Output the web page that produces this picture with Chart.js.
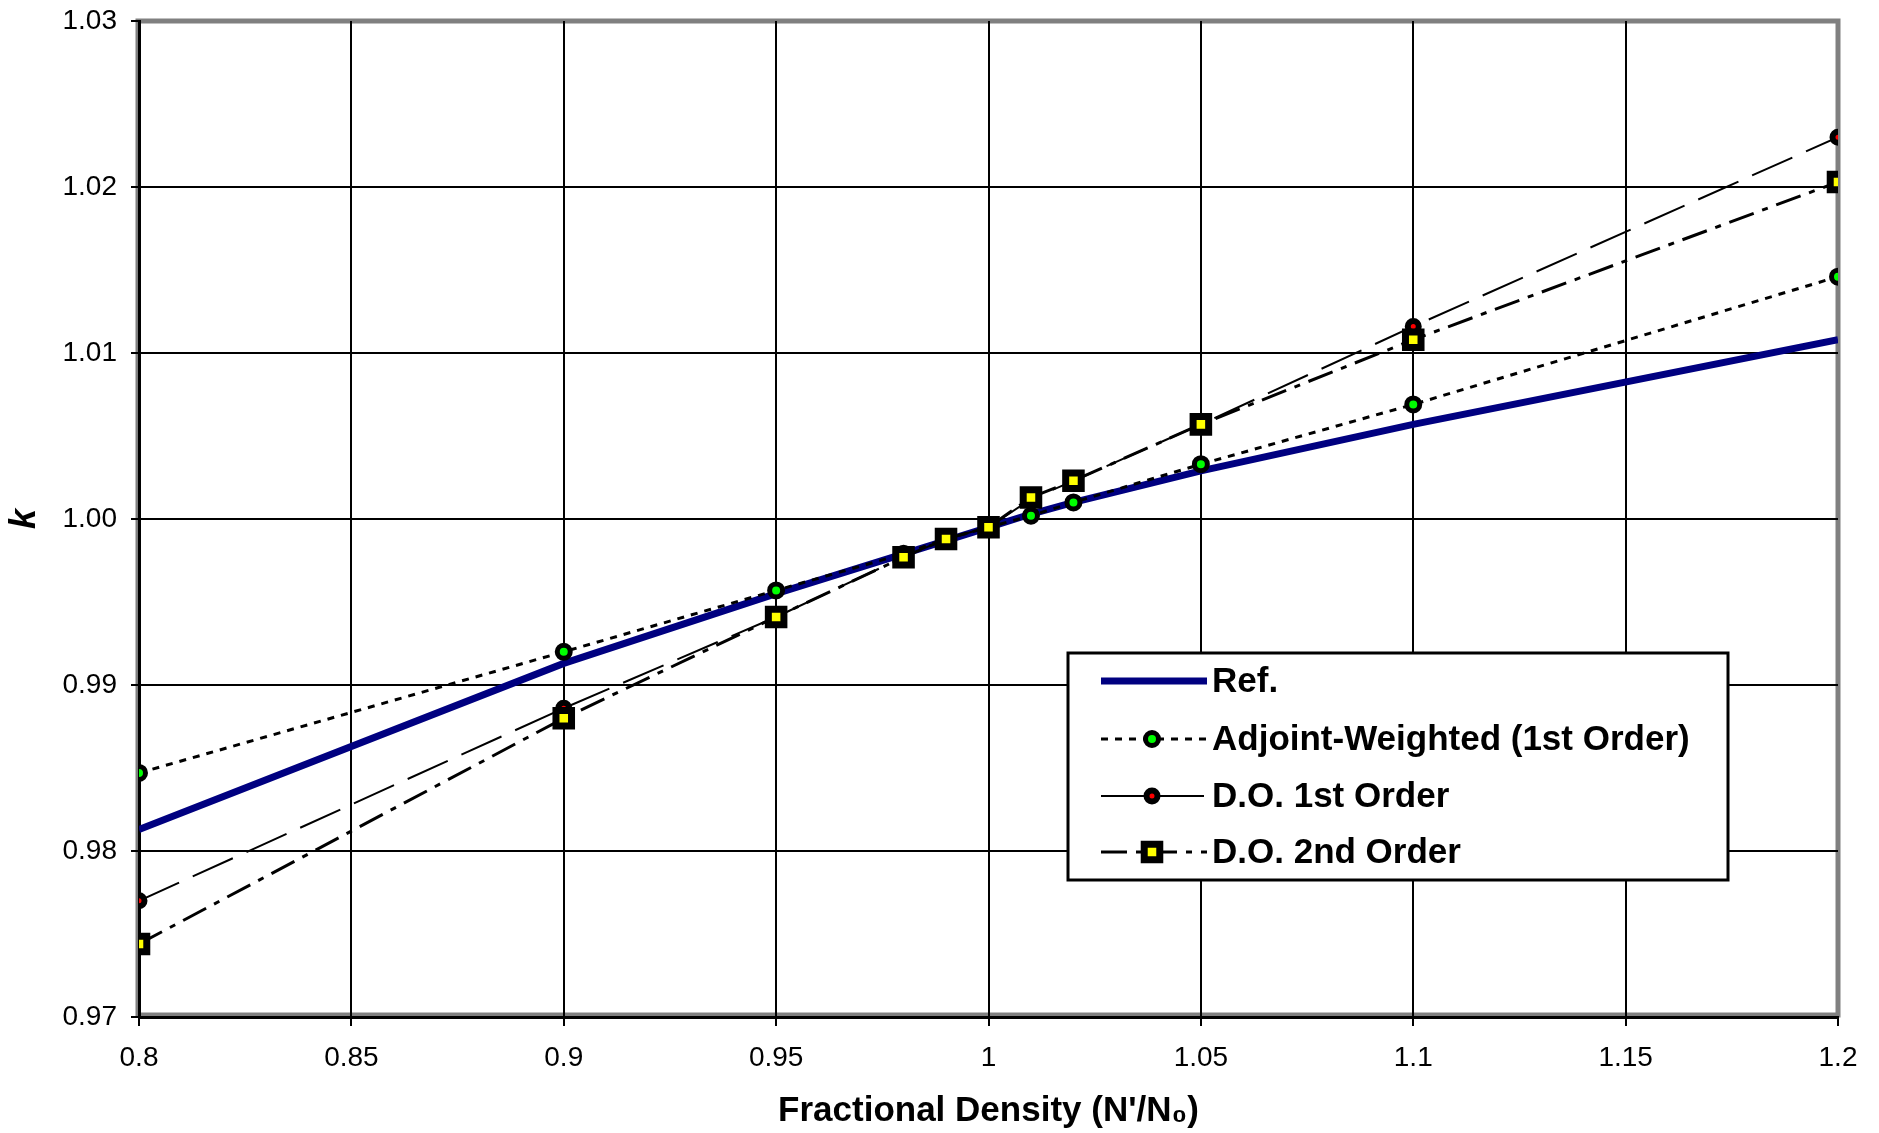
<!DOCTYPE html>
<html>
<head>
<meta charset="utf-8">
<script src="https://cdn.jsdelivr.net/npm/chart.js@4.4.1/dist/chart.umd.min.js"></script>
<style>
    html, body { margin: 0; padding: 0; background: #fff; }
    #wrap { width: 1879px; height: 1133px; position: relative; }
</style>
</head>
<body>
<div id="wrap"><canvas id="kChart"></canvas></div>
<script>
// values
const densities = [0.8, 0.9, 0.95, 0.98, 0.99, 1.0, 1.01, 1.02, 1.05, 1.1, 1.2];
const refK      = [0.9813, 0.9913, 0.9955, 0.9979, 0.9987, 0.9995, 1.0003, 1.0010, 1.0029, 1.0057, 1.0108];
const adjointK  = [0.9847, 0.9920, 0.9957, 0.9979, 0.9988, 0.9995, 1.0002, 1.0010, 1.0033, 1.0069, 1.0146];
const do1K      = [0.9770, 0.9886, 0.9941, 0.9977, 0.9988, 0.9995, 1.0012, 1.0023, 1.0057, 1.0116, 1.0230];
const do2K      = [0.9744, 0.9880, 0.9941, 0.9977, 0.9988, 0.9995, 1.0013, 1.0023, 1.0057, 1.0108, 1.0203];

const seriesNames = ['Ref.', 'Adjoint-Weighted (1st Order)', 'D.O. 1st Order', 'D.O. 2nd Order'];

const xTickValues = [0.8, 0.85, 0.9, 0.95, 1.0, 1.05, 1.1, 1.15, 1.2];
const xTickLabels = ['0.8', '0.85', '0.9', '0.95', '1', '1.05', '1.1', '1.15', '1.2'];
const yTickValues = [0.97, 0.98, 0.99, 1.00, 1.01, 1.02, 1.03];
const yTickLabels = ['0.97', '0.98', '0.99', '1.00', '1.01', '1.02', '1.03'];

const FONT = '"Liberation Sans", Arial, sans-serif';

const toPoints = ys => densities.map((x, i) => ({ x: x, y: ys[i] }));

// gray plot-area frame, drawn under the axes
const framePlugin = {
    id: 'frame',
    beforeDraw(chart) {
        const a = chart.chartArea, ctx = chart.ctx;
        ctx.save();
        ctx.strokeStyle = '#808080';
        ctx.lineWidth = 5;
        ctx.strokeRect(a.left - 1, a.top, a.right - a.left + 1, a.bottom - a.top - 2);
        ctx.restore();
    }
};

// boxed legend sitting inside the plot
const legendPlugin = {
    id: 'boxLegend',
    afterDraw(chart) {
        const ctx = chart.ctx;
        const box = { left: 1068, top: 653, right: 1728, bottom: 880 };
        const rows = [681, 739, 796, 852];
        ctx.save();
        ctx.fillStyle = '#fff';
        ctx.fillRect(box.left, box.top, box.right - box.left, box.bottom - box.top);
        ctx.strokeStyle = '#000';
        ctx.lineWidth = 3;
        ctx.strokeRect(box.left, box.top, box.right - box.left, box.bottom - box.top);

        chart.data.datasets.forEach((ds, i) => {
            const y = rows[i];
            ctx.save();
            ctx.strokeStyle = ds.borderColor;
            ctx.lineWidth = ds.borderWidth;
            ctx.setLineDash(ds.borderDash || []);
            ctx.beginPath();
            ctx.moveTo(1101, y);
            ctx.lineTo(1207, y);
            ctx.stroke();
            ctx.restore();
            if (ds.pointRadius > 0) {
                ctx.save();
                ctx.fillStyle = ds.pointBackgroundColor;
                ctx.strokeStyle = ds.pointBorderColor;
                ctx.lineWidth = ds.pointBorderWidth;
                Chart.helpers.drawPoint(ctx, {
                    pointStyle: ds.pointStyle, radius: ds.pointRadius,
                    borderWidth: ds.pointBorderWidth, rotation: 0
                }, 1152, y);
                ctx.restore();
            }
            ctx.fillStyle = '#000';
            ctx.font = 'bold 35px ' + FONT;
            ctx.textBaseline = 'middle';
            ctx.textAlign = 'left';
            ctx.fillText(ds.label, 1212, y + 1);
        });
        ctx.restore();
    }
};

const edgeColor = (max) => (c) => (c.tick && Math.abs(c.tick.value - max) < 1e-9) ? 'rgba(0,0,0,0)' : '#000';

new Chart(document.getElementById('kChart'), {
    type: 'line',
    data: {
        datasets: [
            {
                label: seriesNames[0], data: toPoints(refK),
                borderColor: '#000080', borderWidth: 7, pointRadius: 0,
                order: 4
            },
            {
                label: seriesNames[1], data: toPoints(adjointK),
                borderColor: '#000', borderWidth: 3, borderDash: [7, 7],
                pointStyle: 'circle', pointRadius: 6.5, pointBorderWidth: 5,
                pointBackgroundColor: '#00ff00', pointBorderColor: '#000',
                order: 3
            },
            {
                label: seriesNames[2], data: toPoints(do1K),
                borderColor: '#000', borderWidth: 2, borderDash: [44, 15],
                pointStyle: 'circle', pointRadius: 5.5, pointBorderWidth: 6,
                pointBackgroundColor: '#ff0000', pointBorderColor: '#000',
                order: 2
            },
            {
                label: seriesNames[3], data: toPoints(do2K),
                borderColor: '#000', borderWidth: 3, borderDash: [26, 9, 6, 9],
                pointStyle: 'rect', pointRadius: 11, pointBorderWidth: 7,
                pointBackgroundColor: '#ffff00', pointBorderColor: '#000',
                order: 1
            }
        ]
    },
    options: {
        responsive: true,
        maintainAspectRatio: false,
        devicePixelRatio: 1,
        animation: false,
        layout: { padding: { top: 21, right: 41, left: 0, bottom: 0 } },
        plugins: { legend: { display: false }, tooltip: { enabled: false } },
        elements: { line: { tension: 0, borderCapStyle: 'butt' } },
        scales: {
            x: {
                type: 'linear', min: 0.8, max: 1.2,
                afterBuildTicks: s => { s.ticks = xTickValues.map(v => ({ value: v })); },
                afterFit: s => { s.height = 116; s.paddingLeft = 0; s.paddingRight = 0; },
                ticks: {
                    color: '#000', padding: 15, maxRotation: 0,
                    font: { family: FONT, size: 28 },
                    callback: (v, i) => xTickLabels[i]
                },
                grid: { color: edgeColor(1.2), tickColor: '#000', lineWidth: 2, tickLength: 9 },
                border: { color: '#000', width: 3 },
                title: {
                    display: true, text: "Fractional Density (N'/N\u2080)", color: '#000',
                    font: { family: FONT, size: 35, weight: 'bold' },
                    padding: { top: 0, bottom: 1 }
                }
            },
            y: {
                type: 'linear', min: 0.97, max: 1.03,
                afterBuildTicks: s => { s.ticks = yTickValues.map(v => ({ value: v })); },
                afterFit: s => { s.width = 139; s.paddingTop = 0; s.paddingBottom = 0; },
                ticks: {
                    color: '#000', padding: 14,
                    font: { family: FONT, size: 28 },
                    callback: (v, i) => yTickLabels[i]
                },
                grid: { color: edgeColor(1.03), tickColor: '#000', lineWidth: 2, tickLength: 8 },
                border: { color: '#000', width: 3 },
                title: {
                    display: true, text: 'k', color: '#000',
                    font: { family: FONT, size: 36, weight: 'bold', style: 'italic' },
                    padding: { top: 3, bottom: 0 }
                }
            }
        }
    },
    plugins: [framePlugin, legendPlugin]
});
</script>
</body>
</html>
